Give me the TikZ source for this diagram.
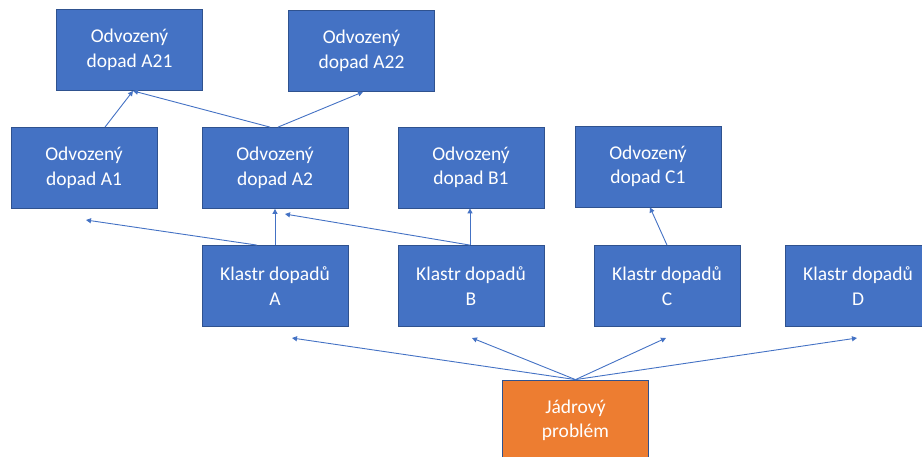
\documentclass[tikz,border=0pt]{standalone}
\usepackage{fontspec}
\setmainfont{Carlito}
\usetikzlibrary{arrows.meta}
\definecolor{boxblue}{HTML}{4472C4}
\definecolor{boxline}{HTML}{2F528F}
\definecolor{boxorange}{HTML}{ED7D31}
\begin{document}
\begin{tikzpicture}[x=1pt,y=-1pt,
  box/.style={draw=boxline, line width=0.8pt, fill=boxblue, text=white, align=center,
    minimum width=146pt, minimum height=81pt, inner sep=0pt,
    font=\fontsize{19.5}{24.5}\selectfont},
  core/.style={box, fill=boxorange},
  conn/.style={draw=boxblue, line width=0.9pt, -{Triangle[width=5pt,length=5pt]}}]
\useasboundingbox (0,0) rectangle (922,456);
\node[box] (A21) at (129.5,50) {Odvozený\\dopad A21};
\node[box] (A22) at (361.5,51) {Odvozený\\dopad A22};
\node[box] (A1) at (84,168) {Odvozený\\dopad A1};
\node[box] (A2) at (275,168) {Odvozený\\dopad A2};
\node[box] (B1) at (471,167.5) {Odvozený\\dopad B1};
\node[box] (C1) at (648,166.5) {Odvozený\\dopad C1};
\node[box] (KA) at (275,286) {Klastr dopadů\\A};
\node[box] (KB) at (471,286) {Klastr dopadů\\B};
\node[box] (KC) at (667,286) {Klastr dopadů\\C};
\node[box] (KD) at (858,286) {Klastr dopadů\\D};
\node[core] (J) at (575.5,420.5) {Jádrový\\problém};
% free ends
\coordinate (eA) at (292,338);
\coordinate (eB) at (472,338);
\coordinate (eC) at (666,338);
\coordinate (eD) at (857,338);
\coordinate (fA) at (86,220);
\coordinate (fB) at (285,214);
% connectors
\draw[conn] (J.north) -- (eA);
\draw[conn] (J.north) -- (eB);
\draw[conn] (J.north) -- (eC);
\draw[conn] (J.north) -- (eD);
\draw[conn] ([xshift=-18pt]KA.north) -- (fA);
\draw[conn] (KA.north) -- (A2.south);
\draw[conn] ([xshift=-1pt]KB.north) -- (fB);
\draw[conn] ([xshift=-1pt]KB.north) -- ([xshift=-1pt]B1.south);
\draw[conn] (KC.north) -- ([xshift=2pt]C1.south);
\draw[conn] ([xshift=21pt]A1.north) -- ([xshift=3.5pt]A21.south);
\draw[conn] ([xshift=-5pt]A2.north) -- ([xshift=3.5pt]A21.south);
\draw[conn] ([xshift=3pt]A2.north) -- ([xshift=1.5pt]A22.south);
\end{tikzpicture}
\end{document}
